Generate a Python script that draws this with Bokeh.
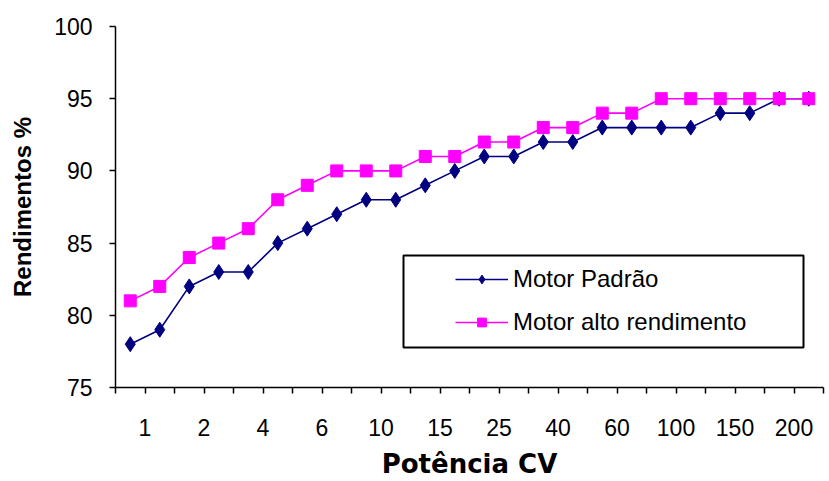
from bokeh.plotting import figure
from bokeh.models import Range1d, FixedTicker, Legend, LegendItem, BoxAnnotation
from bokeh.embed import file_html
from bokeh.resources import INLINE

# ---- data ----
tick_labels = ["1", "2", "4", "6", "10", "15", "25", "40", "60", "100", "150", "200"]
motor_padrao = [78, 79, 82, 83, 83, 85, 86, 87, 88, 88, 89, 90,
                91, 91, 92, 92, 93, 93, 93, 93, 94, 94, 95, 95]
motor_alto = [81, 82, 84, 85, 86, 88, 89, 90, 90, 90, 91, 91,
              92, 92, 93, 93, 94, 94, 95, 95, 95, 95, 95, 95]
y_ticks = [75, 80, 85, 90, 95, 100]
series_names = ["Motor Padrão", "Motor alto rendimento"]

n = len(motor_padrao)
x = [i + 0.5 for i in range(n)]

p = figure(width=829, height=481, output_backend="svg", toolbar_location=None,
           x_range=Range1d(0, n), y_range=Range1d(75, 100),
           min_border_left=115, min_border_right=6, min_border_top=26,
           min_border_bottom=93)
p.outline_line_color = None
p.xgrid.visible = False
p.ygrid.visible = False
p.background_fill_color = "white"
p.border_fill_color = "white"

BLUE = "#000080"
PINK = "#FF00FF"

r1 = p.line(x, motor_padrao, line_color=BLUE, line_width=1.6)
s1 = p.scatter(x, motor_padrao, marker="diamond", size=15, color=BLUE)
r2 = p.line(x, motor_alto, line_color=PINK, line_width=1.6)
s2 = p.scatter(x, motor_alto, marker="square", size=12, color=PINK)

# ---- axes ----
p.xaxis.ticker = FixedTicker(ticks=list(range(n + 1)))
overrides = {i: "" for i in range(n + 1)}
for k, lab in enumerate(tick_labels):
    overrides[2 * k + 1] = lab
p.xaxis.major_label_overrides = overrides
p.yaxis.ticker = FixedTicker(ticks=y_ticks)

for ax in (p.xaxis[0], p.yaxis[0]):
    ax.axis_line_color = "black"
    ax.axis_line_width = 1.5
    ax.major_tick_line_color = "black"
    ax.major_tick_line_width = 1.5
    ax.major_tick_out = 6
    ax.major_tick_in = 0
    ax.minor_tick_line_color = None
    ax.major_label_text_font = "Liberation Sans"
    ax.major_label_text_font_size = "23px"
    ax.major_label_text_color = "black"
    ax.axis_label_text_font_style = "bold"
    ax.axis_label_text_color = "black"

p.xaxis.major_label_standoff = 25
p.yaxis.major_label_standoff = 17
p.xaxis.axis_label = "Potência CV"
p.xaxis.axis_label_text_font = "DejaVu Sans"
p.xaxis.axis_label_text_font_size = "26px"
p.xaxis.axis_label_standoff = 10
p.yaxis.axis_label = "Rendimentos %"
p.yaxis.axis_label_text_font = "Liberation Sans"
p.yaxis.axis_label_text_font_size = "24px"
p.yaxis.axis_label_standoff = 15

# ---- legend ----
box = BoxAnnotation(left=288, right=688, top=132, bottom=40,
                    left_units="screen", right_units="screen",
                    top_units="screen", bottom_units="screen",
                    fill_color="white", fill_alpha=1.0,
                    line_color="black", line_alpha=1.0, line_width=2)
p.add_layout(box)

legend = Legend(items=[LegendItem(label=series_names[0], renderers=[r1, s1]),
                       LegendItem(label=series_names[1], renderers=[r2, s2])],
                location=(340, 50), padding=0, margin=0, spacing=13,
                label_height=30, glyph_height=22, glyph_width=53,
                label_standoff=5, border_line_color=None,
                background_fill_alpha=0,
                label_text_font="Liberation Sans",
                label_text_font_size="24px", label_text_color="black")
p.add_layout(legend)

open("out.html", "w").write(file_html(p, INLINE))
